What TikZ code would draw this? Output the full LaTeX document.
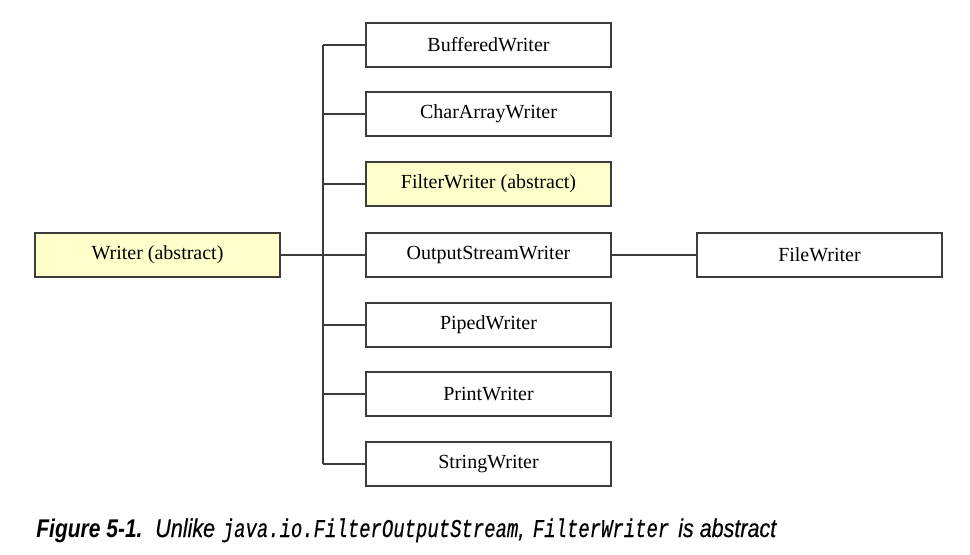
\documentclass[tikz,border=0pt]{standalone}
\usepackage{fontspec}
\setmainfont{Liberation Serif}
\newfontfamily\capfont[FakeStretch=0.82]{Liberation Sans}
\newfontfamily\capmedium[FakeStretch=0.84,FakeBold=0.5]{Liberation Sans}
\newfontfamily\capmono[FakeStretch=0.74,FakeBold=0.4]{Liberation Mono}

\definecolor{abstractfill}{RGB}{255,255,204}
\definecolor{linkgray}{RGB}{60,60,60}

\tikzset{
    classbox/.style={draw=linkgray, line width=0.7pt, minimum width=122.5pt,
        minimum height=22pt, inner sep=0pt, font=\fontsize{10}{12}\selectfont},
    abstractbox/.style={classbox, fill=abstractfill},
    link/.style={draw=linkgray, line width=0.6pt}
}

\begin{document}
\begin{tikzpicture}[x=0.5pt,y=-0.5pt]
    \useasboundingbox (0,0) rectangle (970,554);
    % base class
    \node[abstractbox] (writer) at (157.5,255) {Writer (abstract)};
    % direct subclasses
    \foreach \name/\text/\y/\kind in {
        buffered/BufferedWriter/45/classbox,
        chararray/CharArrayWriter/114/classbox,
        filter/FilterWriter (abstract)/184/abstractbox,
        outputstream/OutputStreamWriter/255/classbox,
        piped/PipedWriter/325/classbox,
        print/PrintWriter/394/classbox,
        string/StringWriter/464/classbox} {
        \node[\kind] (\name) at (488.5,\y) {\text};
    }
    \node[classbox] (file) at (819.5,255) {FileWriter};
    % connectors
    \coordinate (spine) at (323,0);
    \draw[link] (buffered.west -| spine) -- (string.west -| spine);
    \foreach \name in {buffered,chararray,filter,piped,print,string} {
        \draw[link] (\name.west -| spine) -- (\name.west);
    }
    \draw[link] (writer) -- (outputstream);
    \draw[link] (outputstream) -- (file);
    % caption
    \node[anchor=base west, inner sep=0pt, font=\fontsize{12.8}{15}\selectfont] (caption) at (36,537)
        {\capfont\bfseries\itshape Figure 5-1.\hspace{0.5em}\capmedium\mdseries Unlike\hspace{0.3em}\capmono java.io.FilterOutputStream\capmedium, \hspace{0.1em}\capmono FilterWriter\hspace{0.35em}\capmedium is abstract};
\end{tikzpicture}
\end{document}
